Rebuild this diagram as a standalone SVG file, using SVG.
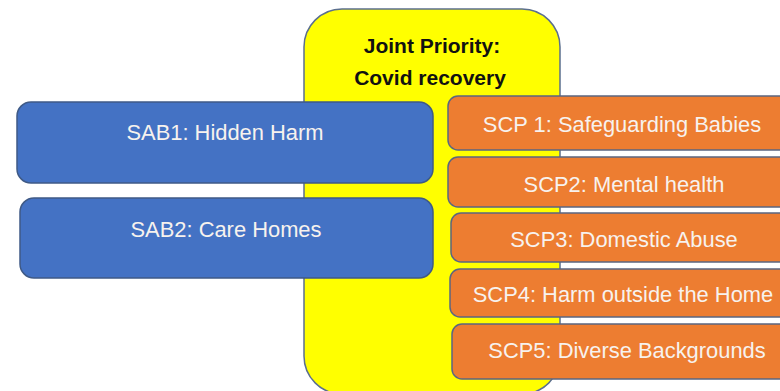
<svg xmlns="http://www.w3.org/2000/svg" width="780" height="391" viewBox="0 0 780 391">
<style>
.yel{fill:#FFFF00;stroke:#5b6f8e;stroke-width:1.5}
.blue{fill:#4472C4;stroke:#3f5a86;stroke-width:1.5}
.org{fill:#ED7D31;stroke:#5b6680;stroke-width:1.5}
.t{font-family:"Liberation Sans",Arial,sans-serif;font-size:21.9px;fill:#f7f2ee;text-anchor:middle}
.h{font-family:"Liberation Sans",Arial,sans-serif;font-size:21px;font-weight:bold;fill:#111;text-anchor:middle}
</style>
<rect width="780" height="391" fill="#ffffff"/>
<g id="joint">
<rect class="yel" x="304" y="9" width="256" height="385" rx="38" ry="38"/>
<text class="h" x="432" y="53">Joint Priority:</text>
<text class="h" x="430" y="85">Covid recovery</text>
</g>
<g id="sab1">
<rect class="blue" x="17" y="102" width="416" height="81" rx="14" ry="14"/>
<text class="t" x="225" y="140">SAB1: Hidden Harm</text>
</g>
<g id="sab2">
<rect class="blue" x="20" y="198" width="413" height="80" rx="14" ry="14"/>
<text class="t" x="226" y="237">SAB2: Care Homes</text>
</g>
<g id="scp1">
<rect class="org" x="448" y="96" width="360" height="54" rx="10" ry="10"/>
<text class="t" x="622" y="132">SCP 1: Safeguarding Babies</text>
</g>
<g id="scp2">
<rect class="org" x="448" y="157" width="360" height="50" rx="10" ry="10"/>
<text class="t" x="624" y="192">SCP2: Mental health</text>
</g>
<g id="scp3">
<rect class="org" x="451" y="213" width="360" height="49" rx="10" ry="10"/>
<text class="t" x="624" y="247">SCP3: Domestic Abuse</text>
</g>
<g id="scp4">
<rect class="org" x="450" y="269" width="360" height="48" rx="10" ry="10"/>
<text class="t" x="623" y="302">SCP4: Harm outside the Home</text>
</g>
<g id="scp5">
<rect class="org" x="452" y="324" width="360" height="55" rx="10" ry="10"/>
<text class="t" x="627" y="358">SCP5: Diverse Backgrounds</text>
</g>
<g id="connectors"></g>
</svg>
